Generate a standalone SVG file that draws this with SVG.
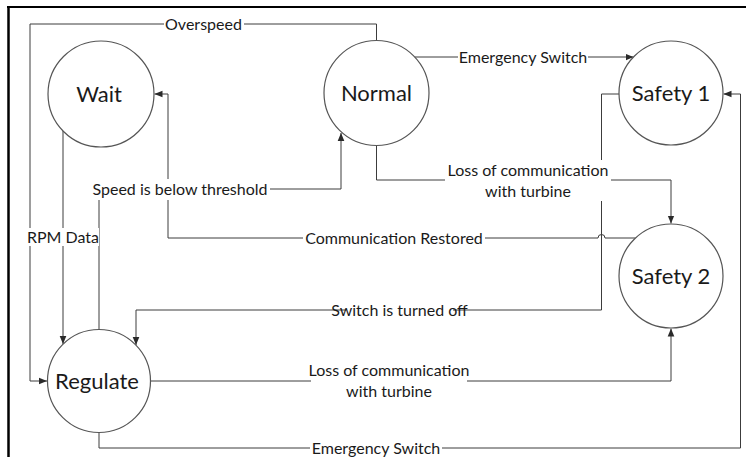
<svg xmlns="http://www.w3.org/2000/svg" width="746" height="457" viewBox="0 0 746 457">
<style>
.node{fill:#ffffff;stroke:#555555;stroke-width:1.2}
.nt{font-family:Lato,"Open Sans","Liberation Sans",sans-serif;font-size:22px;fill:#1a1a1a;text-anchor:middle}
.c{fill:none;stroke:#3c3c3c;stroke-width:1}
.lt{font-family:Lato,"Open Sans","Liberation Sans",sans-serif;font-size:16px;fill:#1a1a1a;text-anchor:middle}
.bg{fill:#ffffff}
.frame{stroke:#000000;fill:none}
</style>
<defs>
<marker id="ah" markerUnits="userSpaceOnUse" markerWidth="8" markerHeight="8" refX="6" refY="3" orient="auto" viewBox="0 0 6 6">
<path d="M0,0.5 L6,3 L0,5.5 Z" fill="#2a2a2a"/>
</marker>
</defs>
<rect x="0" y="0" width="746" height="457" fill="#ffffff"/>
<g id="frame">
<line class="frame" x1="7" y1="7" x2="746" y2="7" stroke-width="2"/>
<line class="frame" x1="8.5" y1="6" x2="8.5" y2="457" stroke-width="2.5"/>
</g>
<g id="connectors">
<path class="c" d="M376.5,40.5 L376.5,24 L30,24 L30,381 L47,381" marker-end="url(#ah)"/>
<path class="c" d="M414.7,57 L633.5,57" marker-end="url(#ah)"/>
<path class="c" d="M376.5,145.5 L376.5,180 L671,180 L671,223.5" marker-end="url(#ah)"/>
<path class="c" d="M99,329.5 L99,189 L341,189 L341,133" marker-end="url(#ah)"/>
<path class="c" d="M635.5,238 L605,238 A3.5,3.5 0 0 0 598,238 L168,238 L168,94 L154.5,94" marker-end="url(#ah)"/>
<path class="c" d="M619,94 L601.5,94 L601.5,310 L136,310 L136,345" marker-end="url(#ah)"/>
<path class="c" d="M63,131 L63,344" marker-end="url(#ah)"/>
<path class="c" d="M150.5,381 L671,381 L671,328.5" marker-end="url(#ah)"/>
<path class="c" d="M99,432.5 L99,448 L740.5,448 L740.5,94 L723.5,94" marker-end="url(#ah)"/>
<g id="labels">
<rect class="bg" x="164" y="15" width="80" height="18"/>
<text class="lt" x="203.5" y="29.5">Overspeed</text>
<rect class="bg" x="458" y="48" width="130" height="18"/>
<text class="lt" x="523" y="62.5">Emergency Switch</text>
<rect class="bg" x="445" y="160" width="166" height="41"/>
<text class="lt" x="528" y="176">Loss of communication</text>
<text class="lt" x="528" y="196.5">with turbine</text>
<rect class="bg" x="90" y="179" width="180" height="21"/>
<text class="lt" x="180" y="194.5">Speed is below threshold</text>
<rect class="bg" x="303" y="229" width="182" height="19"/>
<text class="lt" x="394" y="244">Communication Restored</text>
<rect class="bg" x="346" y="301" width="107" height="18"/>
<text class="lt" x="399.5" y="315.5">Switch is turned off</text>
<rect class="bg" x="27" y="228" width="72" height="18"/>
<text class="lt" x="63" y="242.5">RPM Data</text>
<rect class="bg" x="311" y="361" width="156" height="40"/>
<text class="lt" x="389" y="375.5">Loss of communication</text>
<text class="lt" x="389" y="396.5">with turbine</text>
<rect class="bg" x="310" y="439" width="132" height="18"/>
<text class="lt" x="376" y="453.5">Emergency Switch</text>
</g>
</g>
<g id="wait">
<circle class="node" cx="101" cy="94" r="53"/>
<text class="nt" x="99" y="102">Wait</text>
</g>
<g id="normal">
<circle class="node" cx="376.5" cy="93" r="52.5"/>
<text class="nt" x="376.5" y="101">Normal</text>
</g>
<g id="safety1">
<circle class="node" cx="671" cy="93" r="52"/>
<text class="nt" x="671" y="101">Safety 1</text>
</g>
<g id="safety2">
<circle class="node" cx="671" cy="276" r="52"/>
<text class="nt" x="671" y="284">Safety 2</text>
</g>
<g id="regulate">
<circle class="node" cx="99" cy="381" r="51.5"/>
<text class="nt" x="97" y="389">Regulate</text>
</g>
</svg>
